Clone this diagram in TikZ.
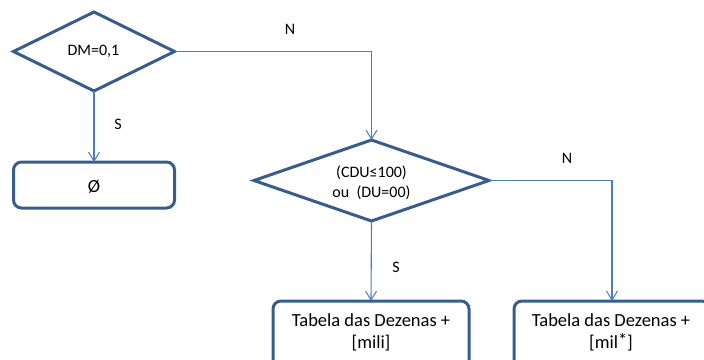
\documentclass[tikz,border=0pt]{standalone}
\usepackage{fontspec}
\setmainfont{Carlito}
\usetikzlibrary{shapes.geometric,arrows.meta}
\definecolor{shapeline}{HTML}{385D8A}
\definecolor{linkline}{HTML}{4A7EBB}
\begin{document}
\begin{tikzpicture}[x=1pt,y=-1pt,
  decision/.style={draw=shapeline,line width=3pt,diamond,inner sep=0pt,outer sep=0pt},
  procbox/.style={draw=shapeline,line width=3pt,rectangle,rounded corners=8pt,inner sep=0pt,outer sep=0pt},
  conn/.style={draw=linkline,line width=1.1pt,-{Straight Barb[length=9pt,width=11pt,line width=1pt]}},
  lbl/.style={inner sep=0pt,font=\fontsize{16}{19}\selectfont},
  boxtext/.style={inner sep=0pt,align=center,font=\fontsize{18.5}{21.5}\selectfont}]
\useasboundingbox (0,0) rectangle (704,359);
\clip (0,0) rectangle (704,359);

% decisions
\node[decision,minimum width=161pt,minimum height=79pt] (d1) at (94,51.5) {};
\node[lbl] (d1t) at (93.5,51) {DM=0,1};
\node[decision,minimum width=235pt,minimum height=81pt] (d2) at (371.5,180.5) {};
\node[lbl,align=center,font=\fontsize{16}{20}\selectfont] (d2t) at (371.5,183) {(CDU≤100)\\ou\ \ (DU=00)};

% process boxes
\node[procbox,minimum width=161pt,minimum height=46pt] (b1) at (94,185) {};
\node[boxtext] (b1t) at (94,187) {Ø};
\node[procbox,minimum width=196pt,minimum height=69pt] (b3) at (371,335.5) {};
\node[boxtext] (b3t) at (371,332.5) {Tabela das Dezenas +\\{[mili]}};
\node[procbox,minimum width=196pt,minimum height=69pt] (b4) at (612,335.5) {};
\node[boxtext] (b4t) at (611,332.5) {Tabela das Dezenas +\\{[mil\raisebox{1.5pt}{*}]}};

% connectors
\draw[conn] (d1.east) -| (d2.north);
\draw[conn] (d1.south) -- (b1.north);
\draw[conn] (d2.east) -| (b4.north);
\draw[conn] (d2.south) -- (b3.north);

% branch labels
\node[lbl] (n1) at (290,29) {N};
\node[lbl] (s1) at (118,124) {S};
\node[lbl] (n2) at (567,158) {N};
\node[lbl] (s2) at (396,267) {S};
\end{tikzpicture}
\end{document}
